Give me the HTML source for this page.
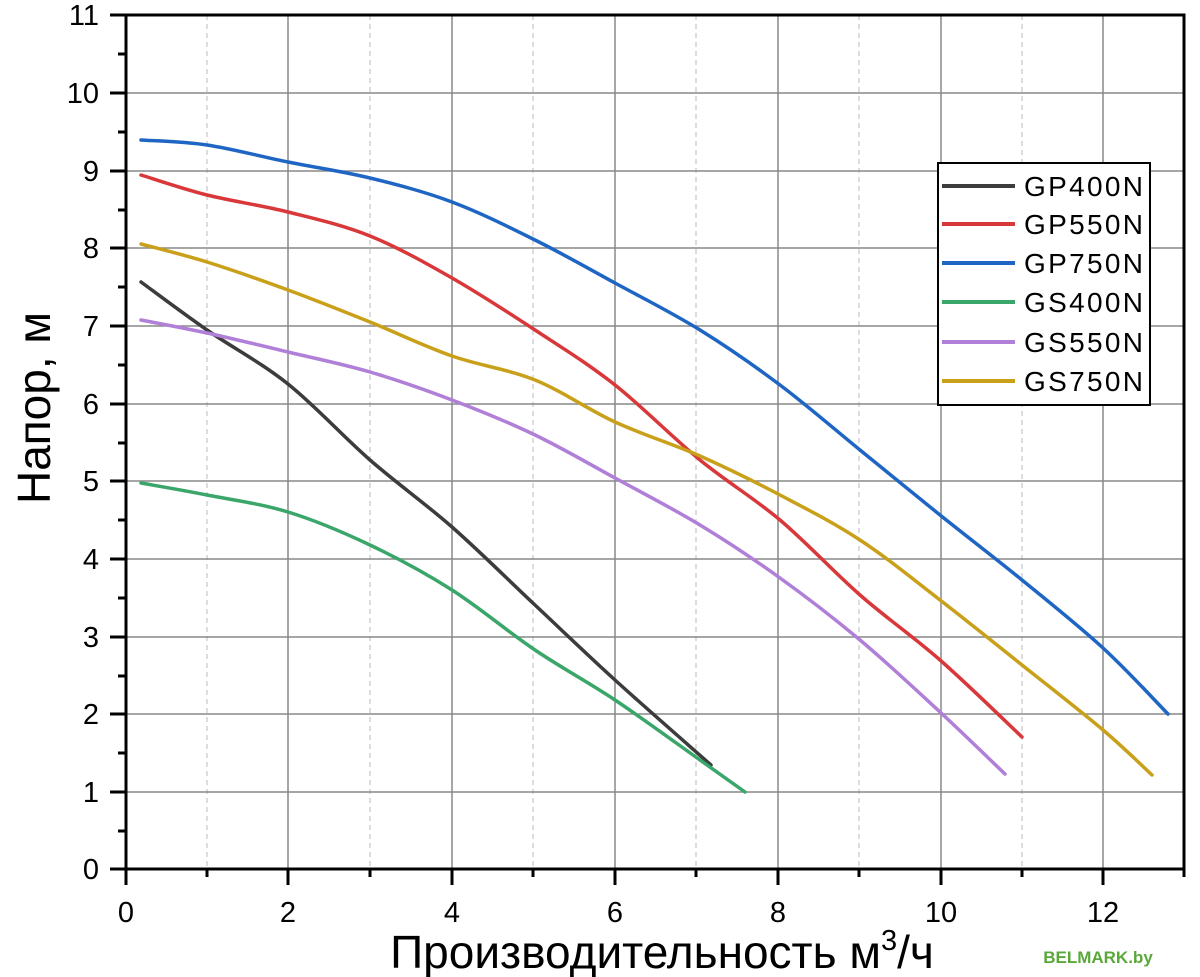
<!DOCTYPE html>
<html><head><meta charset="utf-8"><style>
body{margin:0;background:#fff;}
svg{display:block;font-family:"Liberation Sans",sans-serif;}
</style></head><body>
<svg width="1200" height="977" viewBox="0 0 1200 977">
<g stroke="#888" stroke-width="1.5">
<line x1="288" y1="15" x2="288" y2="869"/><line x1="452" y1="15" x2="452" y2="869"/>
<line x1="615" y1="15" x2="615" y2="869"/><line x1="778" y1="15" x2="778" y2="869"/>
<line x1="941" y1="15" x2="941" y2="869"/><line x1="1103" y1="15" x2="1103" y2="869"/>
</g>
<g stroke="#bbb" stroke-width="1" stroke-dasharray="5,4">
<line x1="207" y1="15" x2="207" y2="869"/><line x1="370" y1="15" x2="370" y2="869"/>
<line x1="533" y1="15" x2="533" y2="869"/><line x1="696" y1="15" x2="696" y2="869"/>
<line x1="859" y1="15" x2="859" y2="869"/><line x1="1022" y1="15" x2="1022" y2="869"/>
</g>
<g stroke="#888" stroke-width="1.5">
<line x1="126" y1="93" x2="1184" y2="93"/><line x1="126" y1="171" x2="1184" y2="171"/>
<line x1="126" y1="248" x2="1184" y2="248"/><line x1="126" y1="326" x2="1184" y2="326"/>
<line x1="126" y1="404" x2="1184" y2="404"/><line x1="126" y1="481" x2="1184" y2="481"/>
<line x1="126" y1="559" x2="1184" y2="559"/><line x1="126" y1="637" x2="1184" y2="637"/>
<line x1="126" y1="714" x2="1184" y2="714"/><line x1="126" y1="792" x2="1184" y2="792"/>
</g>
<rect x="126" y="15" width="1058" height="854" fill="none" stroke="#000" stroke-width="3"/>
<g stroke="#000" stroke-width="3">
<line x1="110" y1="15" x2="126" y2="15"/><line x1="110" y1="93" x2="126" y2="93"/><line x1="110" y1="171" x2="126" y2="171"/><line x1="110" y1="248" x2="126" y2="248"/><line x1="110" y1="326" x2="126" y2="326"/><line x1="110" y1="404" x2="126" y2="404"/><line x1="110" y1="481" x2="126" y2="481"/><line x1="110" y1="559" x2="126" y2="559"/><line x1="110" y1="637" x2="126" y2="637"/><line x1="110" y1="714" x2="126" y2="714"/><line x1="110" y1="792" x2="126" y2="792"/><line x1="110" y1="869" x2="126" y2="869"/>
<line x1="118" y1="54" x2="126" y2="54"/><line x1="118" y1="132" x2="126" y2="132"/><line x1="118" y1="210" x2="126" y2="210"/><line x1="118" y1="287" x2="126" y2="287"/><line x1="118" y1="365" x2="126" y2="365"/><line x1="118" y1="443" x2="126" y2="443"/><line x1="118" y1="520" x2="126" y2="520"/><line x1="118" y1="598" x2="126" y2="598"/><line x1="118" y1="676" x2="126" y2="676"/><line x1="118" y1="753" x2="126" y2="753"/><line x1="118" y1="831" x2="126" y2="831"/>
<line x1="126" y1="869" x2="126" y2="885"/><line x1="288" y1="869" x2="288" y2="885"/><line x1="452" y1="869" x2="452" y2="885"/><line x1="615" y1="869" x2="615" y2="885"/><line x1="778" y1="869" x2="778" y2="885"/><line x1="941" y1="869" x2="941" y2="885"/><line x1="1103" y1="869" x2="1103" y2="885"/>
<line x1="207" y1="869" x2="207" y2="877"/><line x1="370" y1="869" x2="370" y2="877"/><line x1="533" y1="869" x2="533" y2="877"/><line x1="696" y1="869" x2="696" y2="877"/><line x1="859" y1="869" x2="859" y2="877"/><line x1="1022" y1="869" x2="1022" y2="877"/><line x1="1184" y1="869" x2="1184" y2="877"/>
</g>
<g font-size="29" text-anchor="end" fill="#000">
<text x="99" y="25">11</text><text x="99" y="103">10</text><text x="99" y="181">9</text><text x="99" y="258">8</text><text x="99" y="336">7</text><text x="99" y="414">6</text><text x="99" y="491">5</text><text x="99" y="569">4</text><text x="99" y="647">3</text><text x="99" y="724">2</text><text x="99" y="802">1</text><text x="99" y="879">0</text>
</g>
<g font-size="29" text-anchor="middle" fill="#000">
<text x="126" y="922">0</text><text x="288" y="922">2</text><text x="452" y="922">4</text><text x="615" y="922">6</text><text x="778" y="922">8</text><text x="941" y="922">10</text><text x="1103" y="922">12</text>
</g>
<text x="662" y="968" font-size="46" text-anchor="middle">Производительность м<tspan font-size="29" dy="-18">3</tspan><tspan dy="18">/ч</tspan></text>
<text transform="translate(50,408) rotate(-90)" font-size="46" text-anchor="middle">Напор, м</text>
<text x="1098" y="963" font-size="17" font-weight="bold" fill="#5aa83a" text-anchor="middle">BELMARK.by</text>
<g id="curves" fill="none" stroke-width="3.5" stroke-linejoin="round" stroke-linecap="round"></g>
<rect x="938" y="163" width="212" height="242" fill="#fff" stroke="#000" stroke-width="2"/>
<g stroke-width="4">
<line x1="942" y1="186" x2="1015" y2="186" stroke="#3c3c3c"/>
<line x1="942" y1="224" x2="1015" y2="224" stroke="#d9383a"/>
<line x1="942" y1="263" x2="1015" y2="263" stroke="#1f66c4"/>
<line x1="942" y1="302" x2="1015" y2="302" stroke="#3aa66a"/>
<line x1="942" y1="342" x2="1015" y2="342" stroke="#b07fd8"/>
<line x1="942" y1="381" x2="1015" y2="381" stroke="#c9a01a"/>
</g>
<g font-size="28" fill="#000">
<text x="1024" y="196" textLength="119">GP400N</text><text x="1024" y="234" textLength="119">GP550N</text><text x="1024" y="273" textLength="119">GP750N</text>
<text x="1024" y="312" textLength="119">GS400N</text><text x="1024" y="352" textLength="119">GS550N</text><text x="1024" y="391" textLength="119">GS750N</text>
</g>
</svg>
<script>
var data=[
["#3c3c3c","141,282 207,330 288,384 370,460 452,527 535,605 615,680 711,765"],
["#d9383a","141,175 207,195 288,212 370,236 452,278 535,330 615,385 700,460 780,520 860,595 940,660 1022,737"],
["#1f66c4","141,140 207,145 288,162 370,178 452,202 535,240 615,283 700,330 780,385 860,450 940,515 1022,580 1103,648 1168,714"],
["#3aa66a","141,483 207,495 288,512 370,545 452,590 535,650 615,700 700,760 745,792"],
["#b07fd8","141,320 207,333 288,352 370,372 452,400 535,435 615,478 700,525 780,578 860,640 940,712 1005,774"],
["#c9a01a","141,244 207,262 288,290 370,322 452,356 535,380 615,422 700,456 780,495 860,540 940,600 1022,665 1103,730 1152,775"]];
var g=document.getElementById('curves'),ns="http://www.w3.org/2000/svg";
data.forEach(function(d){
 var p=d[1].split(' ').map(function(s){return s.split(',').map(Number)});
 var s="M"+p[0][0]+","+p[0][1];
 for(var i=0;i<p.length-1;i++){
  var a=p[i-1]||p[i],b=p[i],c=p[i+1],e=p[i+2]||c;
  s+=" C"+(b[0]+(c[0]-a[0])/6)+","+(b[1]+(c[1]-a[1])/6)+" "+(c[0]-(e[0]-b[0])/6)+","+(c[1]-(e[1]-b[1])/6)+" "+c[0]+","+c[1];
 }
 var el=document.createElementNS(ns,'path');el.setAttribute('d',s);el.setAttribute('stroke',d[0]);g.appendChild(el);
});
</script>
</body></html>
